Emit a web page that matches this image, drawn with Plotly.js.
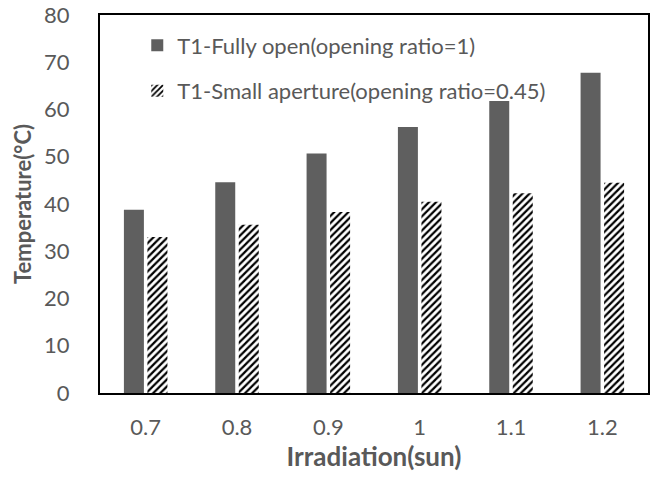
<!DOCTYPE html>
<html><head><meta charset="utf-8">
<script src="https://cdn.plot.ly/plotly-3.0.1.min.js"></script>
<style>body{margin:0;background:#fff}#c{width:659px;height:477px}</style>
</head><body><div id="c"></div>
<script>
const categories = ["0.7", "0.8", "0.9", "1", "1.1", "1.2"];
const fullyOpen = [38.8, 44.6, 50.7, 56.3, 61.8, 67.8];
const smallAperture = [33.0, 35.6, 38.3, 40.5, 42.3, 44.5];
const seriesNames = ["T1-Fully open(opening ratio=1)", "T1-Small aperture(opening ratio=0.45)"];
const yTicks = [0, 10, 20, 30, 40, 50, 60, 70, 80];

const grey = "#595959";
const traces = [
  {type: "bar", x: categories, y: fullyOpen, name: seriesNames[0], legendgroup: "a",
   marker: {color: "#5f5f5f", line: {width: 0}}},
  {type: "bar", x: categories, y: smallAperture, name: seriesNames[1], legendgroup: "b",
   marker: {color: "#ffffff", line: {width: 0},
            pattern: {shape: "/", fgcolor: "#000000", bgcolor: "#ffffff", size: 5, solidity: 0.45}}}
];
const layout = {
  width: 659, height: 477,
  margin: {l: 100, r: 11, t: 15, b: 84},
  paper_bgcolor: "#fff", plot_bgcolor: "#fff",
  font: {family: "Lato, 'Open Sans', sans-serif", color: grey},
  barmode: "group", bargap: 0.485, bargroupgap: 0.15,
  showlegend: true,
  legend: {x: 0.068, y: 0.975, xanchor: "left", yanchor: "top", bgcolor: "rgba(0,0,0,0)",
           font: {size: 22, color: grey}, tracegroupgap: 14, itemwidth: 30},
  xaxis: {type: "category", showline: true, linecolor: "#000", linewidth: 2, mirror: true,
          ticks: "", ticklabelstandoff: 14, tickfont: {size: 22, color: grey},
          title: {text: "Irradiation(sun)", font: {size: 26, color: grey, weight: "bold"}, standoff: 2}},
  yaxis: {range: [0, 80], tickvals: yTicks, showgrid: false, zeroline: false,
          showline: true, linecolor: "#000", linewidth: 2, mirror: true,
          ticks: "", ticklabelstandoff: 24, tickfont: {size: 22, color: grey},
          title: {text: "Temperature(°C)", font: {size: 22, color: grey, weight: "bold"}, standoff: 6}}
};
Plotly.newPlot("c", traces, layout, {displayModeBar: false, staticPlot: true});
</script></body></html>
